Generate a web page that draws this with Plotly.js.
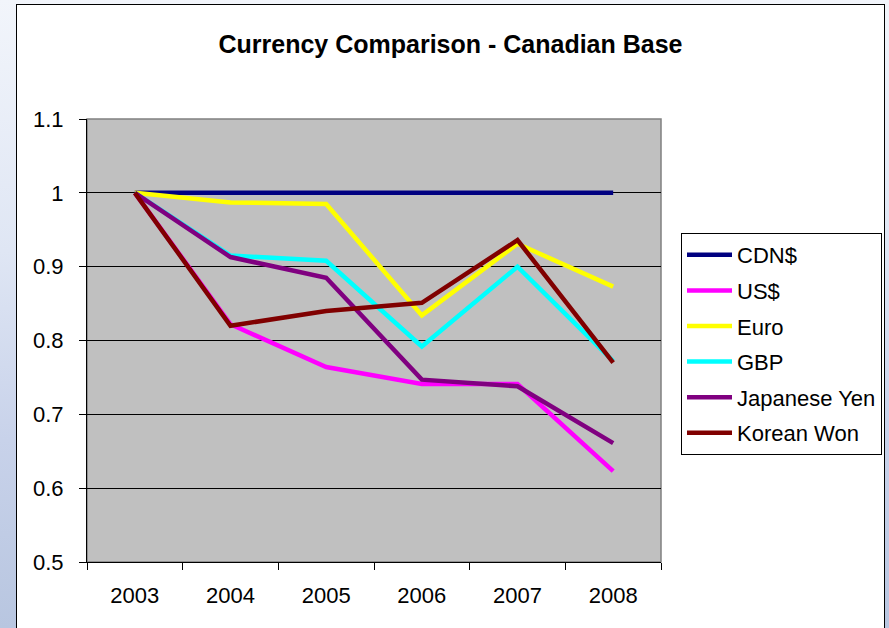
<!DOCTYPE html>
<html><head><meta charset="utf-8">
<script src="https://cdn.plot.ly/plotly-3.0.1.min.js"></script>
<style>
html,body{margin:0;padding:0;width:889px;height:628px;overflow:hidden;
background:linear-gradient(180deg,#f2f5fb 0%,#dfe6f4 40%,#c8d2ea 70%,#b8c6e0 100%);}
#chart{position:absolute;left:16px;top:4px;width:867px;height:640px;border:1px solid #000;background:#fff;}
</style></head>
<body><div id="chart"></div>
<script>
var years = ["2003","2004","2005","2006","2007","2008"];
var cdn = [1,1,1,1,1,1];
var usd = [1,0.822,0.764,0.741,0.741,0.623];
var euro = [1,0.987,0.985,0.834,0.931,0.873];
var gbp = [1,0.915,0.908,0.792,0.900,0.772];
var yen = [1,0.913,0.885,0.747,0.738,0.661];
var won = [1,0.820,0.840,0.851,0.936,0.770];
var names = ["CDN$","US$","Euro","GBP","Japanese Yen","Korean Won"];
var colors = ["#000080","#FF00FF","#FFFF00","#00FFFF","#800080","#800000"];
var series = [cdn,usd,euro,gbp,yen,won];
var traces = series.map(function(v,i){
  return {x:years,y:v,type:"scatter",mode:"lines",name:names[i],legendgroup:"g"+i,
    line:{color:colors[i],width:4.5}};
});
var layout = {
  width:867,height:640,
  paper_bgcolor:"#fff",plot_bgcolor:"#C0C0C0",
  font:{family:"Liberation Sans, Arial, sans-serif",size:22,color:"#000"},
  margin:{l:70,r:223,t:114,b:83},
  title:{text:"<b>Currency Comparison - Canadian Base</b>",font:{size:25},x:0.5,xref:"container",y:1-39/640,yref:"container",yanchor:"middle"},
  xaxis:{type:"category",range:[-0.5,5.5],tickson:"boundaries",ticks:"outside",ticklen:7,tickcolor:"#000",
    ticklabelstandoff:14,
    showline:true,linecolor:"#000",linewidth:1,showgrid:false,zeroline:false,fixedrange:true},
  yaxis:{range:[0.5,1.1],dtick:0.1,tick0:0.5,ticks:"outside",ticklen:7,tickcolor:"#000",
    ticklabelstandoff:11,
    showline:true,linecolor:"#000",linewidth:1,gridcolor:"#000",gridwidth:1,zeroline:false,fixedrange:true},
  shapes:[{type:"rect",xref:"paper",yref:"paper",x0:0,x1:1,y0:0,y1:1,line:{color:"#808080",width:1.5},layer:"below"}],
  showlegend:true,
  legend:{xref:"container",yref:"container",x:664/867,y:1-228/640,xanchor:"left",yanchor:"top",
    bgcolor:"#fff",bordercolor:"#000",borderwidth:1,font:{size:22},itemwidth:45,
    traceorder:"grouped",tracegroupgap:4}
};
Plotly.newPlot("chart",traces,layout,{displayModeBar:false,staticPlot:true});
</script></body></html>
